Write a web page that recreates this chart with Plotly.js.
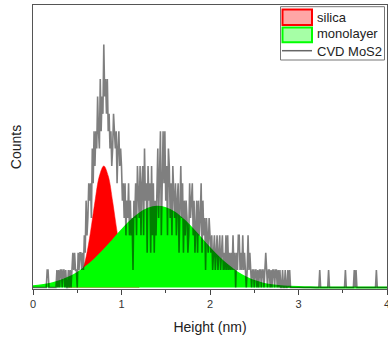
<!DOCTYPE html>
<html>
<head>
<meta charset="utf-8">
<script src="https://cdn.plot.ly/plotly-3.0.1.min.js"></script>
<style>html,body{margin:0;padding:0;background:#fff;}#chart{width:388px;height:347px;}</style>
</head>
<body>
<div id="chart"></div>
<script>
// Histogram of heights (CVD MoS2): bins start at 0 nm, width 0.01 nm
const binStart = 0;
const binWidth = 0.01;
const mos2Counts = [
  0,0,0,0,0,0,0,0,0,0,
  0,0,0,0,0,0,1,1,0,0,
  0,0,0,0,0,0,0,1,0,1,
  0,1,1,0,1,1,0,1,0,0,
  1,0,1,0,1,2,1,2,1,1,
  0,2,1,2,2,1,2,1,3,2,
  5,3,4,6,5,6,4,8,6,9,
  7,9,8,11,9,8,12,9,11,10,
  14,11,12,10,12,9,10,8,9,7,
  8,10,9,8,9,6,8,9,7,8,
  7,5,6,4,6,3,5,4,6,3,
  5,3,4,1,5,4,6,3,7,5,
  4,7,3,6,7,3,8,5,6,2,
  7,5,6,2,7,3,6,2,5,3,
  6,8,4,7,9,3,8,9,6,9,
  5,7,3,8,7,4,6,3,7,5,
  4,6,3,5,6,2,5,7,4,6,
  2,5,3,5,4,2,3,6,4,5,
  6,3,5,2,4,5,2,5,3,4,
  6,2,5,3,4,1,4,3,2,4,
  3,2,3,1,2,3,1,2,3,1,
  2,3,1,2,3,1,2,1,3,1,
  3,1,2,1,2,1,3,1,2,0,
  2,1,3,3,1,2,1,3,1,2,
  1,0,1,3,1,2,1,0,1,1,
  0,1,1,0,1,0,1,1,0,1,
  1,0,1,2,1,0,1,1,0,1,
  0,1,1,0,1,1,0,1,0,1,
  0,0,1,0,0,1,0,0,1,0,
  1,0,0,0,0,0,0,0,0,0,
  0,0,0,0,0,0,0,0,0,0,
  0,0,0,0,0,0,0,0,0,0,
  0,0,0,0,1,0,0,0,0,0,
  0,0,0,0,1,0,0,0,0,0,
  0,0,0,0,0,0,0,0,0,0,
  0,0,0,1,0,0,0,0,0,0,
  0,0,0,1,0,1,0,0,0,0,
  0,0,0,0,0,0,0,0,0,0,
  0,0,0,0,0,0,0,0,1,0,
  0,0,0,0,0,0,0,0,0,0,
  0
];

// Gaussian fit curves
const silicaX = [0.40,0.45,0.50,0.55,0.60,0.65,0.70,0.75,0.80,0.85,0.90,0.95,1.00,1.05,1.10,1.15,1.20];
const silicaY = [0.03,0.10,0.31,0.80,1.75,3.20,4.95,6.42,7.00,6.42,4.95,3.20,1.75,0.80,0.31,0.10,0.03];

const monoX = [0.0,0.1,0.2,0.3,0.4,0.5,0.6,0.7,0.8,0.9,1.0,1.1,1.2,1.3,1.4,1.5,1.6,1.7,1.8,1.9,2.0,
               2.1,2.2,2.3,2.4,2.5,2.6,2.7,2.8,2.9,3.0,3.1,3.2,3.4,3.6,3.8,4.0];
const monoY = [0.07,0.13,0.22,0.36,0.56,0.83,1.19,1.63,2.14,2.70,3.28,3.81,4.24,4.53,4.65,4.57,4.31,3.90,3.39,2.82,2.25,
               1.73,1.27,0.89,0.60,0.37,0.22,0.13,0.07,0.04,0.02,0.01,0,0,0,0,0];

const xTicks = [0,1,2,3,4];
const xTickText = ['0','1','2','3','4'];
const legendNames = ['silica','monolayer','CVD MoS2'];

const mos2X = mos2Counts.map((_, i) => +(binStart + i * binWidth).toFixed(3));

const traces = [
  {x: silicaX, y: silicaY, type: 'scatter', mode: 'lines', fill: 'tozeroy',
   line: {color: '#ff0000', width: 0.5, shape: 'spline'}, fillcolor: '#ff0000', showlegend: false, name: legendNames[0]},
  {x: monoX, y: monoY, type: 'scatter', mode: 'lines', fill: 'tozeroy',
   line: {color: '#00ff00', width: 2, shape: 'spline'}, fillcolor: '#00ff00', showlegend: false, name: legendNames[1]},
  {x: mos2X, y: mos2Counts, type: 'scatter', mode: 'lines',
   line: {color: 'rgba(0,0,0,0.5)', width: 1.6}, showlegend: false, name: legendNames[2]}
];

const px = v => (v - 33) / 354;
const py = v => (289 - v) / 284;

const layout = {
  width: 388, height: 347,
  margin: {l: 33, r: 1, t: 5, b: 58},
  paper_bgcolor: '#ffffff', plot_bgcolor: '#ffffff',
  showlegend: false,
  font: {family: 'Liberation Sans, Arial, sans-serif', color: '#222'},
  xaxis: {
    range: [0, 4], tickvals: xTicks, ticktext: xTickText,
    ticks: 'outside', ticklen: 5, tickwidth: 1, tickcolor: '#444',
    ticklabeloverflow: 'allow',
    minor: {dtick: 0.5, ticks: 'outside', ticklen: 3, tickwidth: 1, tickcolor: '#444'},
    showline: true, linecolor: '#555', linewidth: 1, mirror: true,
    showgrid: false, zeroline: false,
    tickfont: {size: 11, color: '#333'},
    title: {text: 'Height (nm)', font: {size: 14, color: '#222'}, standoff: 12}
  },
  yaxis: {
    range: [-0.09, 16.27], showticklabels: false, ticks: '',
    showline: true, linecolor: '#555', linewidth: 1, mirror: true,
    showgrid: false, zeroline: false,
    title: {text: 'Counts', font: {size: 14, color: '#222'}, standoff: 7}
  },
  shapes: [
    {type: 'rect', xref: 'paper', yref: 'paper', x0: px(280.5), x1: px(384.5), y0: py(60), y1: py(6.7),
     line: {color: '#777', width: 1}, fillcolor: '#ffffff'},
    {type: 'rect', xref: 'paper', yref: 'paper', x0: px(282.5), x1: px(312), y0: py(25), y1: py(9.5),
     line: {color: '#ff0000', width: 2}, fillcolor: 'rgba(255,0,0,0.35)'},
    {type: 'rect', xref: 'paper', yref: 'paper', x0: px(282.5), x1: px(312), y0: py(42.3), y1: py(27.5),
     line: {color: '#00ff00', width: 2}, fillcolor: 'rgba(0,255,0,0.35)'},
    {type: 'line', xref: 'paper', yref: 'paper', x0: px(282), x1: px(312), y0: py(50.7), y1: py(50.7),
     line: {color: '#666', width: 1.5}}
  ],
  annotations: [
    {xref: 'paper', yref: 'paper', x: px(315), y: py(17.3), text: legendNames[0], showarrow: false,
     xanchor: 'left', yanchor: 'middle', font: {size: 13, color: '#222'}},
    {xref: 'paper', yref: 'paper', x: px(315), y: py(33.8), text: legendNames[1], showarrow: false,
     xanchor: 'left', yanchor: 'middle', font: {size: 13, color: '#222'}},
    {xref: 'paper', yref: 'paper', x: px(315), y: py(51), text: legendNames[2], showarrow: false,
     xanchor: 'left', yanchor: 'middle', font: {size: 13, color: '#222'}}
  ]
};

Plotly.newPlot('chart', traces, layout, {staticPlot: true, displayModeBar: false});
</script>
</body>
</html>
